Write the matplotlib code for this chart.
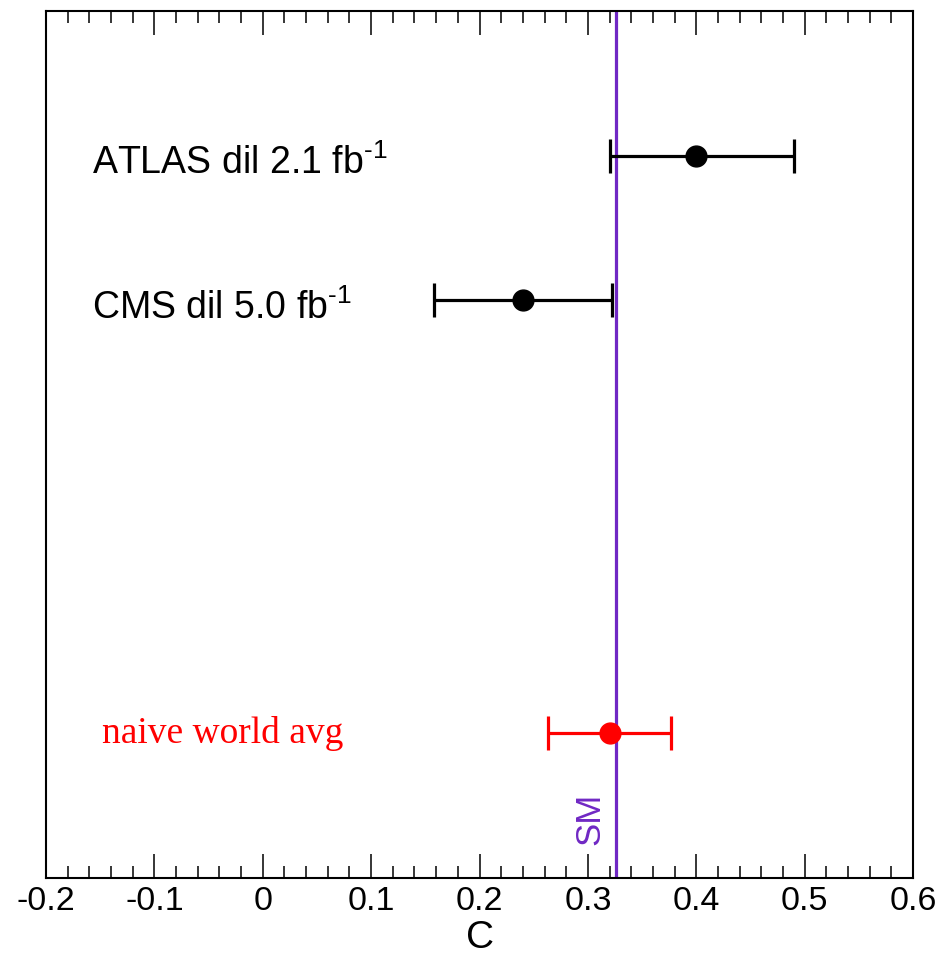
import numpy as np
import matplotlib
matplotlib.use('Agg')
import matplotlib.pyplot as plt

plt.rcParams['font.family'] = ['Liberation Sans', 'DejaVu Sans']
plt.rcParams['mathtext.fontset'] = 'custom'
plt.rcParams['mathtext.rm'] = 'Liberation Sans'

# measurements of C (central value, lower error, upper error)
labels = ['ATLAS dil 2.1 fb$^{\\mathregular{\u2010}1}$', 'CMS dil 5.0 fb$^{\\mathregular{\u2010}1}$']
c_val = [0.40, 0.24]
err_lo = [0.08, 0.082]
err_hi = [0.09, 0.082]
y_pos = [5, 4]

avg_label = 'naive world avg'
avg_val = 0.32
avg_err = 0.057
avg_y = 1

sm_val = 0.326

fig = plt.figure(figsize=(9.44, 9.66), dpi=100)
ax = fig.add_axes([0.0487, 0.0911, 0.9185, 0.8975])
ax.set_xlim(-0.2, 0.6)
ax.set_ylim(0, 6)

ax.axvline(sm_val, color='#7028C4', lw=2.3, zorder=1)
ax.text(0.302, 0.41, 'SM', rotation=90, ha='center', va='center',
        color='#7028C4', fontsize=25)

ax.errorbar(c_val, y_pos, xerr=[err_lo, err_hi], fmt='o', color='black',
            ms=15, elinewidth=2.3, capsize=12, capthick=2.3, zorder=3)
ax.errorbar([avg_val], [avg_y], xerr=[[avg_err], [avg_err]], fmt='o', color='red',
            ms=15, elinewidth=2.3, capsize=12, capthick=2.3, zorder=3)

for lab, y in zip(labels, y_pos):
    ax.text(-0.1575, y - 0.13, lab, fontsize=27, va='baseline', ha='left')
ax.text(-0.148, avg_y - 0.066, avg_label, fontsize=27, color='red',
        family='Liberation Serif', va='baseline', ha='left')

ax.set_xticks(np.arange(-0.2, 0.61, 0.1))
ax.set_xticklabels(['-0.2', '-0.1', '0', '0.1', '0.2', '0.3', '0.4', '0.5', '0.6'])
ax.set_xticks(np.arange(-0.2, 0.61, 0.02), minor=True)
ax.tick_params(axis='x', which='both', direction='in', top=True, bottom=True,
               labelsize=24.5, width=1.1, pad=6)
ax.tick_params(axis='x', which='major', length=17)
ax.tick_params(axis='x', which='minor', length=8.5)
ax.set_yticks([])
ax.set_xlabel('C', fontsize=28, labelpad=2)
for s in ax.spines.values():
    s.set_linewidth(1.5)

fig.savefig('out.png', dpi=100)
